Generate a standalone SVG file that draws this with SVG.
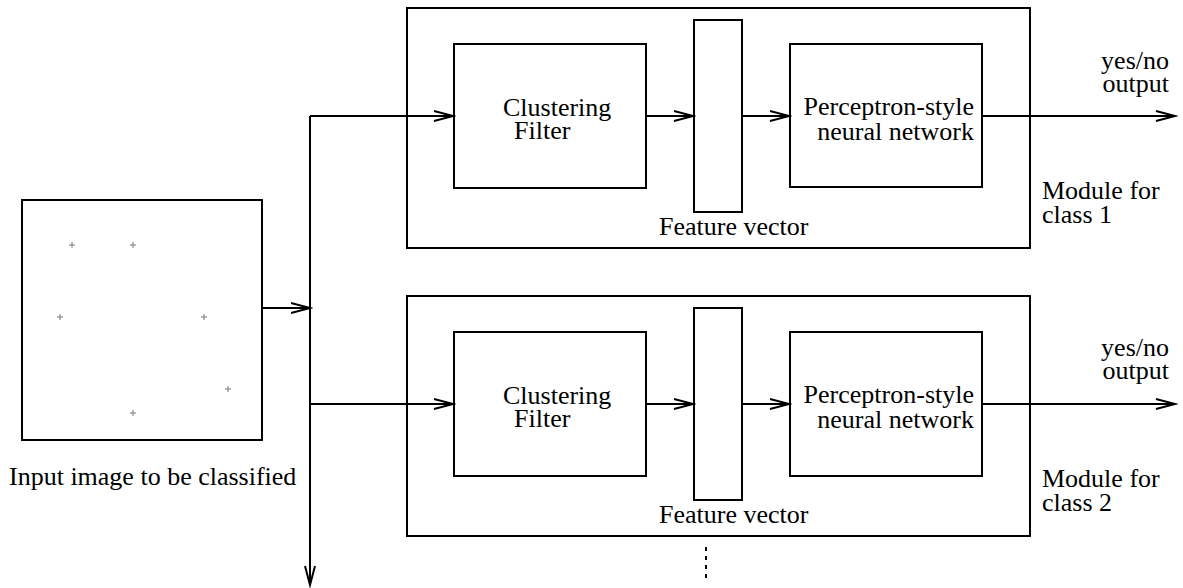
<svg xmlns="http://www.w3.org/2000/svg" width="1183" height="588" viewBox="0 0 1183 588">
<style>
.box{fill:none;stroke:#000;stroke-width:2}
.ln{fill:none;stroke:#000;stroke-width:2}
.t{font-family:"Liberation Serif","Times New Roman",serif;font-size:26px;fill:#000}
.e{text-anchor:end}
.pt{stroke:#777;stroke-width:1}
</style>
<defs>
<marker id="arr" markerUnits="userSpaceOnUse" markerWidth="24" markerHeight="14" refX="21" refY="7" orient="auto" viewBox="0 0 24 14">
<path d="M2,2 L21,7 L2,12" fill="none" stroke="#000" stroke-width="2"/>
</marker>
</defs>
<rect width="1183" height="588" fill="#fff"/>

<g id="input">
<rect class="box" x="22" y="200" width="240" height="240"/>
<g class="pt">
<path d="M69,245h6M72,242v6"/>
<path d="M130,245h6M133,242v6"/>
<path d="M57,317h6M60,314v6"/>
<path d="M201,317h6M204,314v6"/>
<path d="M225,389h6M228,386v6"/>
<path d="M130,413h6M133,410v6"/>
</g>
<text class="t" x="9" y="485">Input image to be classified</text>
</g>

<g id="module1">
<rect class="box" x="407" y="8" width="623" height="240"/>
<text class="t" x="1042" y="199">Module for</text>
<text class="t" x="1042" y="223">class 1</text>
</g>
<g id="filter1">
<rect class="box" x="454" y="44" width="192" height="144"/>
<text class="t" x="503" y="116">Clustering</text>
<text class="t" x="514" y="139">Filter</text>
</g>
<g id="fv1">
<rect class="box" x="694" y="20" width="48" height="192"/>
<text class="t" x="659" y="235">Feature vector</text>
</g>
<g id="nn1">
<rect class="box" x="790" y="44" width="192" height="143"/>
<text class="t e" x="974" y="115">Perceptron-style</text>
<text class="t e" x="974" y="140">neural network</text>
</g>
<g id="out1">
<text class="t e" x="1169" y="69">yes/no</text>
<text class="t e" x="1169" y="92">output</text>
</g>

<g id="module2">
<rect class="box" x="407" y="296" width="623" height="240"/>
<text class="t" x="1042" y="487">Module for</text>
<text class="t" x="1042" y="511">class 2</text>
</g>
<g id="filter2">
<rect class="box" x="454" y="332" width="192" height="144"/>
<text class="t" x="503" y="404">Clustering</text>
<text class="t" x="514" y="427">Filter</text>
</g>
<g id="fv2">
<rect class="box" x="694" y="308" width="48" height="192"/>
<text class="t" x="659" y="523">Feature vector</text>
</g>
<g id="nn2">
<rect class="box" x="790" y="332" width="192" height="144"/>
<text class="t e" x="974" y="403">Perceptron-style</text>
<text class="t e" x="974" y="428">neural network</text>
</g>
<g id="out2">
<text class="t e" x="1169" y="356">yes/no</text>
<text class="t e" x="1169" y="379">output</text>
</g>

<g id="connectors">
<path class="ln" d="M262,308H310" marker-end="url(#arr)"/>
<path class="ln" d="M310,116V585" marker-end="url(#arr)"/>
<path class="ln" d="M310,116H453" marker-end="url(#arr)"/>
<path class="ln" d="M310,404H453" marker-end="url(#arr)"/>
<path class="ln" d="M646,116H693" marker-end="url(#arr)"/>
<path class="ln" d="M742,116H789" marker-end="url(#arr)"/>
<path class="ln" d="M982,116H1175" marker-end="url(#arr)"/>
<path class="ln" d="M646,404H693" marker-end="url(#arr)"/>
<path class="ln" d="M742,404H789" marker-end="url(#arr)"/>
<path class="ln" d="M982,404H1175" marker-end="url(#arr)"/>
<path class="ln" d="M706,547V581" stroke-dasharray="4,5"/>
</g>
</svg>
